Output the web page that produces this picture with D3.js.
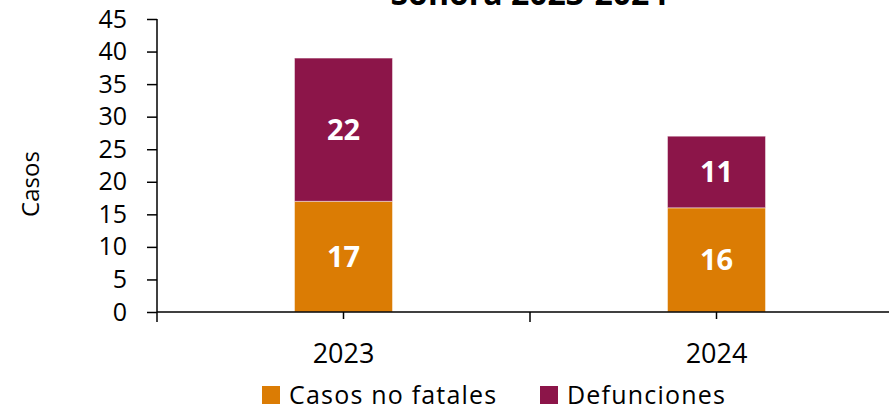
<!DOCTYPE html>
<html>
<head>
<meta charset="utf-8">
<script src="https://cdn.jsdelivr.net/npm/d3@7.9.0/dist/d3.min.js"></script>
<style>
  body { margin: 0; background: #fff; }
  svg { display: block; font-family: "Open Sans", Lato, sans-serif; }
</style>
</head>
<body>
<div id="chart"></div>
<script>
// data
const years = ["2023", "2024"];
const noFatales = [17, 16];
const defunciones = [22, 11];
const yTicks = [0, 5, 10, 15, 20, 25, 30, 35, 40, 45];
const seriesNames = ["Casos no fatales", "Defunciones"];
const colors = ["#DB7C04", "#8C1549"];

const W = 889, H = 408;
const plot = {left: 157, right: 903, top: 19, bottom: 312};
const FONT = "'Open Sans', Lato, sans-serif";

const svg = d3.select("#chart")
    .append("svg")
    .attr("width", W)
    .attr("height", H);

// scales
const x = d3.scaleBand()
    .domain(years)
    .range([plot.left, plot.right])
    .paddingInner(0)
    .paddingOuter(0);

const y = d3.scaleLinear()
    .domain([0, 45])
    .range([plot.bottom, plot.top]);

const barW = 98;

// stacked bars
const stacked = years.map((yr, i) => {
    const a = noFatales[i], b = defunciones[i];
    return [
        {year: yr, y0: 0, y1: a, v: a, s: 0},
        {year: yr, y0: a, y1: a + b, v: b, s: 1}
    ];
}).flat();

svg.append("g")
    .selectAll("rect")
    .data(stacked)
    .join("rect")
    .attr("x", d => x(d.year) + x.bandwidth() / 2 - barW / 2)
    .attr("width", barW)
    .attr("y", d => y(d.y1))
    .attr("height", d => y(d.y0) - y(d.y1))
    .attr("fill", d => colors[d.s])
    .attr("stroke", "rgba(255,255,255,0.45)")
    .attr("stroke-width", 1);

// value labels
svg.append("g")
    .selectAll("text")
    .data(stacked)
    .join("text")
    .attr("x", d => x(d.year) + x.bandwidth() / 2)
    .attr("y", d => y((d.y0 + d.y1) / 2))
    .attr("dy", "0.36em")
    .attr("text-anchor", "middle")
    .attr("fill", "#fff")
    .attr("font-weight", "bold")
    .attr("font-size", "29px")
    .text(d => d.v);

// y axis
const yAxis = svg.append("g")
    .attr("transform", `translate(${plot.left},0)`)
    .call(d3.axisLeft(y).tickValues(yTicks).tickSize(10).tickPadding(20));
yAxis.select(".domain").attr("stroke", "#000").attr("stroke-width", 1.5)
    .attr("d", `M0,${plot.top}V${plot.bottom + 10}`);
yAxis.selectAll(".tick line").attr("stroke", "#000").attr("stroke-width", 1.5);
yAxis.selectAll(".tick text")
    .attr("font-size", "25px")
    .attr("fill", "#000")
    .attr("font-family", FONT);

// x axis
const xAxis = svg.append("g")
    .attr("transform", `translate(0,${plot.bottom})`)
    .call(d3.axisBottom(x).tickSize(7).tickPadding(0));
xAxis.select(".domain").attr("stroke", "#000").attr("stroke-width", 1.5)
    .attr("d", `M${plot.left},0H${plot.right}`);
xAxis.selectAll(".tick line").attr("stroke", "#000").attr("stroke-width", 1.5);
xAxis.selectAll(".tick text")
    .attr("font-size", "27px")
    .attr("fill", "#000")
    .attr("font-family", FONT)
    .attr("y", 51)
    .attr("dy", 0);
// boundary tick between categories
xAxis.append("g")
    .selectAll("line")
    .data(years.slice(1))
    .join("line")
    .attr("x1", d => x(d))
    .attr("x2", d => x(d))
    .attr("y1", 0)
    .attr("y2", 10)
    .attr("stroke", "#000")
    .attr("stroke-width", 1.5);

// y label
svg.append("text")
    .attr("transform", "rotate(-90)")
    .attr("x", -184)
    .attr("y", 39)
    .attr("text-anchor", "middle")
    .attr("font-size", "24px")
    .text("Casos");

// title (cropped at the top)
svg.append("text")
    .attr("x", 529)
    .attr("y", 5)
    .attr("text-anchor", "middle")
    .attr("font-size", "32px")
    .attr("font-weight", "bold")
    .text("Sonora 2023-2024");

// legend
const legend = svg.append("g")
    .attr("transform", "translate(262,386)");
const legX = [0, 278];
seriesNames.forEach((name, i) => {
    legend.append("rect")
        .attr("x", legX[i])
        .attr("y", 0)
        .attr("width", 18)
        .attr("height", 18)
        .attr("fill", colors[i]);
    legend.append("text")
        .attr("x", legX[i] + 27)
        .attr("y", 17.5)
        .attr("font-size", "25px")
        .attr("letter-spacing", "1.2px")
        .text(name);
});
</script>
</body>
</html>
